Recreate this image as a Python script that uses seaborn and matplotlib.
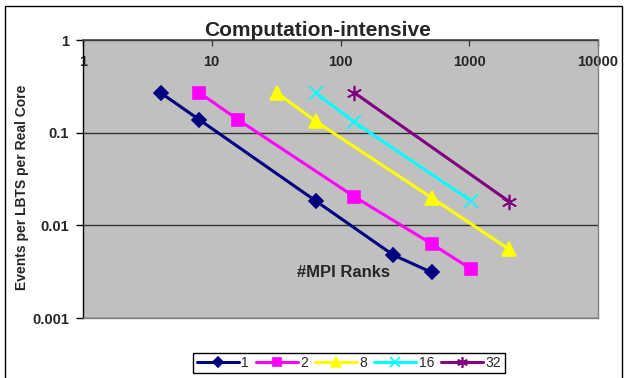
import numpy as np
import pandas as pd
import seaborn as sns
import matplotlib.pyplot as plt
from matplotlib.patches import Rectangle
from matplotlib.ticker import FixedLocator, FixedFormatter, NullLocator

sns.set_style('white')
plt.rcParams['font.family'] = ['Liberation Sans', 'DejaVu Sans']

# data
ranks_1 = [4, 8, 64, 256, 512]
events_1 = [0.27, 0.138, 0.0184, 0.0048, 0.0031]
ranks_2 = [8, 16, 128, 512, 1024]
events_2 = [0.27, 0.138, 0.0204, 0.0063, 0.0034]
ranks_8 = [32, 64, 512, 2048]
events_8 = [0.27, 0.133, 0.0198, 0.0055]
ranks_16 = [64, 128, 1024]
events_16 = [0.27, 0.13, 0.0185]
ranks_32 = [128, 2048]
events_32 = [0.27, 0.018]

series_names = ['1', '2', '8', '16', '32']
x_ticks = [1, 10, 100, 1000, 10000]
x_tick_labels = ['1', '10', '100', '1000', '10000']
y_ticks = [0.001, 0.01, 0.1, 1]
y_tick_labels = ['0.001', '0.01', '0.1', '1']

colors = ['#000080', '#FF00FF', '#FFFF00', '#00FFFF', '#800080']
markers = ['D', 's', '^', 'x', (6, 2, 0)]
msizes = [7, 9, 10, 10, 11]

fig = plt.figure(figsize=(6.26, 3.78), dpi=100)
ax = fig.add_axes([83/626, 1-318/378, (598-83)/626, (318-40)/378])
ax.set_facecolor('#C0C0C0')

all_x = [ranks_1, ranks_2, ranks_8, ranks_16, ranks_32]
all_y = [events_1, events_2, events_8, events_16, events_32]
for name, xs, ys, c, m, ms in zip(series_names, all_x, all_y, colors, markers, msizes):
    d = pd.DataFrame({'ranks': xs, 'events': ys})
    sns.lineplot(data=d, x='ranks', y='events', ax=ax, color=c, marker=m,
                 markersize=ms, markeredgecolor=c, markeredgewidth=1.2,
                 linewidth=2.2, label=name)

ax.set_xscale('log')
ax.set_yscale('log')
ax.set_xlim(1, 10000)
ax.set_ylim(0.001, 1)

ax.xaxis.set_major_locator(FixedLocator(x_ticks))
ax.xaxis.set_major_formatter(FixedFormatter(x_tick_labels))
ax.xaxis.set_minor_locator(NullLocator())
ax.yaxis.set_major_locator(FixedLocator(y_ticks))
ax.yaxis.set_major_formatter(FixedFormatter(y_tick_labels))
ax.yaxis.set_minor_locator(NullLocator())

ax.xaxis.tick_top()
ax.tick_params(axis='x', direction='in', length=4, width=1, color='#404040',
               pad=-21, labelsize=10.5)
ax.tick_params(axis='y', direction='out', length=5, width=1, color='black',
               pad=5, labelsize=10.5, left=True)
for lab in ax.get_xticklabels() + ax.get_yticklabels():
    lab.set_fontweight('bold')

ax.grid(axis='y', color='#333333', linewidth=1)
ax.grid(axis='x', visible=False)

ax.spines['left'].set_color('black')
ax.spines['left'].set_linewidth(1)
ax.spines['top'].set_color('#404040')
ax.spines['top'].set_linewidth(1.2)
for s in ['right', 'bottom']:
    ax.spines[s].set_color('#808080')
    ax.spines[s].set_linewidth(1)

ax.set_xlabel('')
ax.set_ylabel('Events per LBTS per Real Core', fontsize=10, fontweight='bold')
ax.yaxis.set_label_coords(-0.105, 0.47)

fig.text(0.508, 1-30/378, 'Computation-intensive', ha='center', va='center',
         fontsize=15, fontweight='bold')
ax.text(106, 0.0031, '#MPI Ranks', ha='center', va='center', fontsize=12,
        fontweight='bold')

ax.legend(loc='center', bbox_to_anchor=(349/626, 1-363/378),
          bbox_transform=fig.transFigure, ncol=5, frameon=True, fancybox=False,
          edgecolor='black', framealpha=1, handlelength=3, columnspacing=0.5,
          handletextpad=0.2, fontsize=10, borderpad=0.25, borderaxespad=0,
          markerscale=0.7)

fig.patches.append(Rectangle((5/626, -0.02), (622-5)/626, 1-6/378+0.02,
                             transform=fig.transFigure, fill=False,
                             edgecolor='black', linewidth=1))

fig.savefig('out.png', dpi=100)
